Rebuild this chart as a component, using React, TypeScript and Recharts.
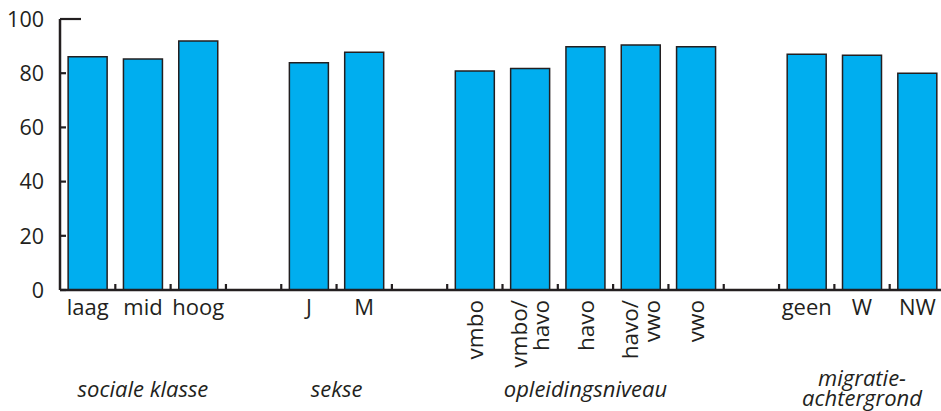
import { BarChart, Bar, XAxis, YAxis } from "recharts";

const categories = [
  "laag", "mid", "hoog", "_gap1",
  "J", "M", "_gap2",
  "vmbo", "vmbo/havo", "havo", "havo/vwo", "vwo", "_gap3",
  "geen", "W", "NW",
];
const scores = [
  86.1, 85.2, 91.9, null,
  83.9, 87.7, null,
  80.8, 81.7, 89.8, 90.4, 89.8, null,
  87.0, 86.6, 80.0,
];
// tick label lines per category; rotated ones stand upright
const tickLines: string[][] = [
  ["laag"], ["mid"], ["hoog"], [],
  ["J"], ["M"], [],
  ["vmbo"], ["vmbo/", "havo"], ["havo"], ["havo/", "vwo"], ["vwo"], [],
  ["geen"], ["W"], ["NW"],
];
const rotated = [
  false, false, false, false,
  false, false, false,
  true, true, true, true, true, false,
  false, false, false,
];
const groups = [
  { lines: ["sociale klasse"], start: 0, count: 3 },
  { lines: ["sekse"], start: 4, count: 2 },
  { lines: ["opleidingsniveau"], start: 7, count: 5 },
  { lines: ["migratie-", "achtergrond"], start: 13, count: 3 },
];
const yTicks = [0, 20, 40, 60, 80, 100];

const data = categories.map((c, i) => ({ cat: c, score: scores[i] }));

const INK = "#231f20";
const FONT = "'Open Sans', sans-serif";

function XTick(props: any) {
  const { x, y, payload, index } = props;
  const half = payload.offset ?? 0;
  const lines = tickLines[index] ?? [];
  const group = groups.find((g) => g.start === index);
  const gx = x - half + (group ? group.count * half : 0);
  return (
    <g>
      <line x1={x + half} x2={x + half} y1={y} y2={y - 6} stroke={INK} strokeWidth={2.2} />
      {rotated[index]
        ? lines.map((l, k) => (
            <g
              key={k}
              transform={`translate(${x + (k - (lines.length - 1) / 2) * 22},${y + 10}) rotate(-90)`}
            >
              <text x={0} y={0} dy="0.36em" textAnchor="end" fontSize={22.5} fill={INK} fontFamily={FONT}>
                {l}
              </text>
            </g>
          ))
        : lines.map((l, k) => (
            <text key={k} x={x} y={y + 25} textAnchor="middle" fontSize={22} fill={INK} fontFamily={FONT}>
              {l}
            </text>
          ))}
      {group && (
        <text
          x={gx}
          y={y + (group.lines.length > 1 ? 96 : 107)}
          textAnchor="middle"
          fontSize={22}
          fontStyle="italic"
          fill={INK}
          fontFamily={FONT}
        >
          {group.lines.map((l, k) => (
            <tspan key={k} x={gx} dy={k === 0 ? 0 : 20}>
              {l}
            </tspan>
          ))}
        </text>
      )}
    </g>
  );
}

function YTick(props: any) {
  const { x, y, payload } = props;
  const len = payload.value === 100 ? 21 : 6;
  return (
    <g>
      <line x1={x} x2={x + len} y1={y} y2={y} stroke={INK} strokeWidth={2.2} />
      <text x={x - 16} y={y} dy="0.36em" textAnchor="end" fontSize={21.5} fill={INK} fontFamily={FONT}>
        {payload.value}
      </text>
    </g>
  );
}

export default function App() {
  return (
    <div style={{ position: "absolute", left: 0, top: 0, width: 941, height: 411, background: "#fff" }}>
      <BarChart
        width={941}
        height={411}
        data={data}
        margin={{ top: 19, right: -4, left: 0, bottom: 0 }}
        barCategoryGap="14.7%"
      >
        <XAxis
          dataKey="cat"
          interval={0}
          height={121}
          tickLine={false}
          tickSize={0}
          tickMargin={0}
          axisLine={{ stroke: INK, strokeWidth: 2.5 }}
          tick={<XTick />}
        />
        <YAxis
          domain={[0, 100]}
          ticks={yTicks}
          width={60}
          tickLine={false}
          tickSize={0}
          tickMargin={0}
          axisLine={{ stroke: INK, strokeWidth: 2.5 }}
          tick={<YTick />}
        />
        <Bar dataKey="score" fill="#00aeef" stroke={INK} strokeWidth={1.5} isAnimationActive={false} />
      </BarChart>
    </div>
  );
}
